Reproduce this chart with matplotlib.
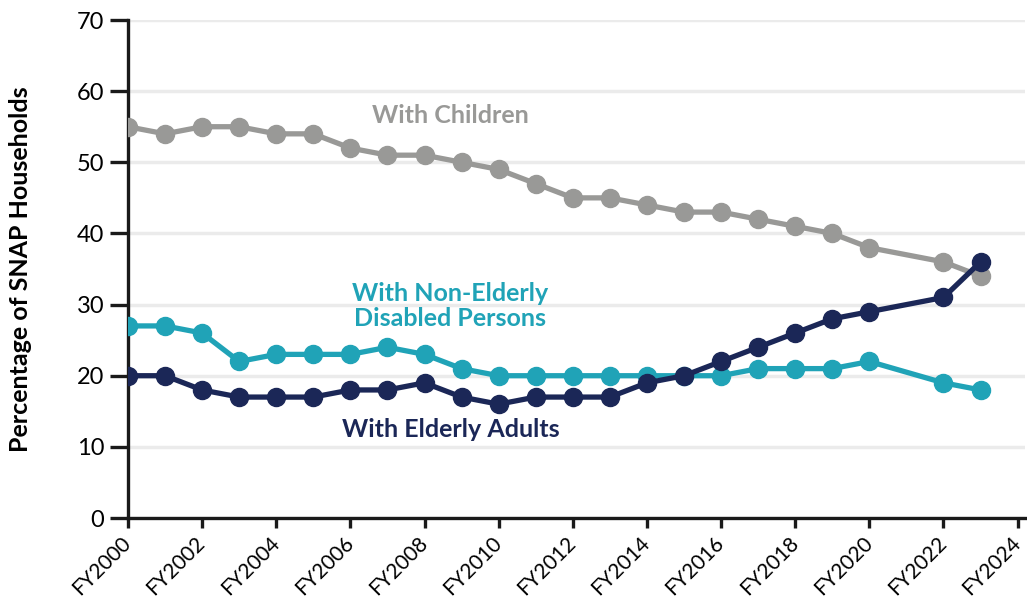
import matplotlib
matplotlib.use("Agg")
import matplotlib.pyplot as plt
from matplotlib.transforms import ScaledTranslation

plt.rcParams["font.family"] = ["Lato", "DejaVu Sans"]

# FY2021 has no data point
years = [2000, 2001, 2002, 2003, 2004, 2005, 2006, 2007, 2008, 2009, 2010,
         2011, 2012, 2013, 2014, 2015, 2016, 2017, 2018, 2019, 2020, 2022, 2023]
children = [55, 54, 55, 55, 54, 54, 52, 51, 51, 50, 49,
            47, 45, 45, 44, 43, 43, 42, 41, 40, 38, 36, 34]
disabled = [27, 27, 26, 22, 23, 23, 23, 24, 23, 21, 20,
            20, 20, 20, 20, 20, 20, 21, 21, 21, 22, 19, 18]
elderly = [20, 20, 18, 17, 17, 17, 18, 18, 19, 17, 16,
           17, 17, 17, 19, 20, 22, 24, 26, 28, 29, 31, 36]

tick_years = list(range(2000, 2025, 2))
tick_labels = [f"FY{y}" for y in tick_years]

GREY = "#999997"
TEAL = "#20A3B7"
NAVY = "#1B2757"

fig = plt.figure(figsize=(10.27, 6.10), dpi=100)
ax = fig.add_axes([0.1246, 0.1508, 0.8735, 0.8164])

style = dict(lw=3.8, marker="o", ms=13, solid_capstyle="round", solid_joinstyle="round")
ax.plot(years, children, color=GREY, zorder=3, **style)
ax.plot(years, disabled, color=TEAL, zorder=4, **style)
ax.plot(years, elderly, color=NAVY, zorder=5, **style)

ax.set_xlim(2000, 2024.2)
ax.set_ylim(0, 70)
ax.set_yticks(range(0, 71, 10))
ax.set_xticks(tick_years)

ax.grid(axis="y", color="#ebebeb", lw=2.5, zorder=0)
ax.set_axisbelow(True)
for s in ["top", "right"]:
    ax.spines[s].set_visible(False)
for s in ["left", "bottom"]:
    ax.spines[s].set_linewidth(2.4)
    ax.spines[s].set_color("#1a1a1a")
ax.spines["left"].set_bounds(0, 70)

ax.tick_params(axis="y", length=13, width=2.4, color="#1a1a1a", labelsize=17, pad=4)
ax.tick_params(axis="x", length=7, width=2.4, color="#1a1a1a", labelsize=15, pad=4)
ax.set_xticklabels(tick_labels, rotation=45, ha="right", rotation_mode="anchor")
ax.set_ylabel("Percentage of SNAP Households", fontsize=18, fontweight="bold")
ax.yaxis.set_label_coords(-0.107, 0.5)

ax.text(2008.7, 56.6, "With Children", color=GREY, fontsize=18, fontweight="bold", ha="center", va="center")
ax.text(2008.7, 29.8, "With Non-Elderly\nDisabled Persons", color=TEAL, fontsize=18,
        fontweight="bold", ha="center", va="center", linespacing=1.1)
ax.text(2008.7, 12.4, "With Elderly Adults", color=NAVY, fontsize=18, fontweight="bold", ha="center", va="center")

# nudge rotated labels left so the last one stays inside the canvas
shift = ScaledTranslation(-7 / 100, 0, fig.dpi_scale_trans)
for lbl in ax.get_xticklabels():
    lbl.set_transform(lbl.get_transform() + shift)

fig.savefig("out.png", dpi=100)
